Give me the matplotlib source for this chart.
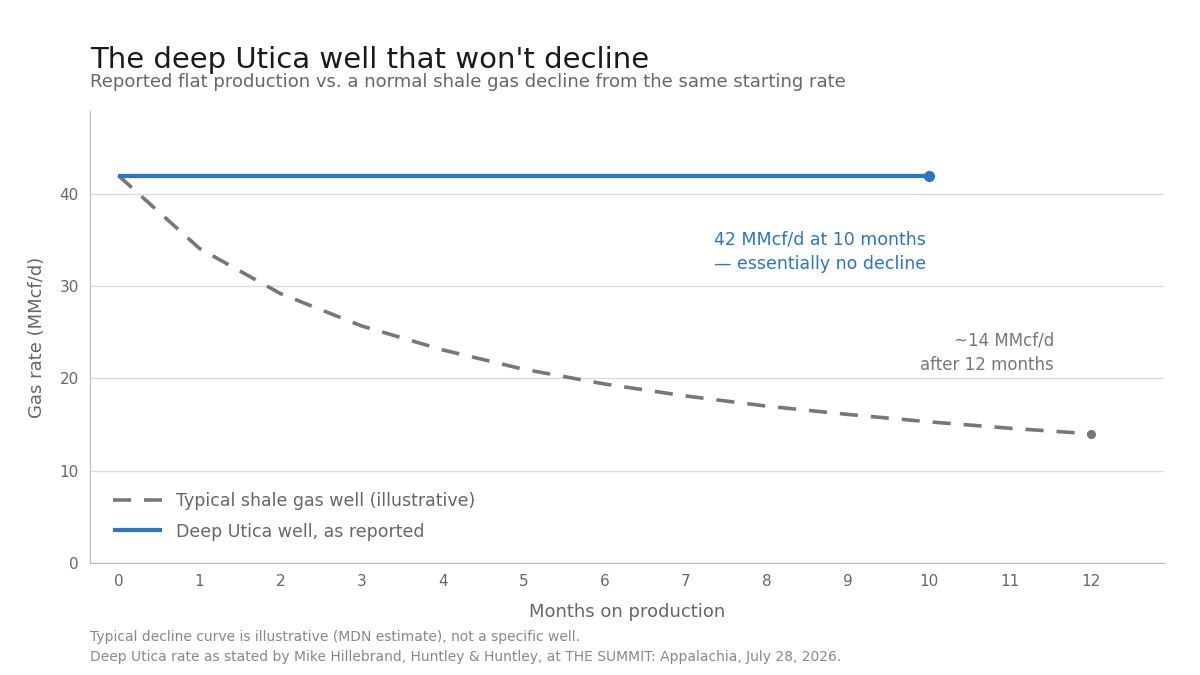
import matplotlib
matplotlib.use("Agg")
import matplotlib.pyplot as plt

months = list(range(13))
typical = [42, 34.1, 29.2, 25.7, 23.1, 21.0, 19.4, 18.1, 17.0, 16.1, 15.3, 14.6, 14.0]
utica_months = list(range(11))
utica = [42] * 11

BLUE = "#2b74c8"
GRAY = "#777777"
TXT = "#666666"

plt.rcParams['font.family'] = ['DejaVu Sans']
fig = plt.figure(figsize=(12, 6.75), dpi=100)
ax = fig.add_axes([0.075, 0.166, 0.895, 0.6696])

ax.plot(months, typical, color=GRAY, lw=2.6, ls=(0, (5.0, 3.6)),
        label="Typical shale gas well (illustrative)")
ax.plot(months[-1], typical[-1], 'o', color=GRAY, ms=5.5)
ax.plot(utica_months, utica, color=BLUE, lw=3.0, solid_capstyle='butt',
        label="Deep Utica well, as reported")
ax.plot(utica_months[-1], utica[-1], 'o', color=BLUE, ms=7)

ax.set_xlim(-0.35, 12.9)
ax.set_ylim(0, 49)
ax.set_xticks(months)
ax.set_yticks([0, 10, 20, 30, 40])
ax.grid(axis='y', color='#dddddd', lw=1)
ax.set_axisbelow(True)
for s in ['top', 'right']:
    ax.spines[s].set_visible(False)
for s in ['left', 'bottom']:
    ax.spines[s].set_color('#bbbbbb')
ax.tick_params(length=0, labelsize=11, labelcolor=TXT, pad=8)
ax.set_xlabel("Months on production", fontsize=13, color=TXT, labelpad=10)
ax.set_ylabel("Gas rate (MMcf/d)", fontsize=13, color=TXT, labelpad=10)

ax.text(9.96, 33.7, "42 MMcf/d at 10 months\n— essentially no decline", color=BLUE,
        fontsize=12.5, ha='right', va='center', linespacing=1.45)
ax.text(11.54, 22.8, "~14 MMcf/d\nafter 12 months", color=GRAY,
        fontsize=12, ha='right', va='center', linespacing=1.45)

leg = ax.legend(loc='lower left', frameon=False, fontsize=12.5, labelcolor=TXT,
                handlelength=2.8, bbox_to_anchor=(0.007, 0.015), labelspacing=0.7)

fig.text(0.075, 0.9115, "The deep Utica well that won't decline", fontsize=21,
         color='#1a1a1a', ha='left', va='center')
fig.text(0.075, 0.879, "Reported flat production vs. a normal shale gas decline from the same starting rate",
         fontsize=13, color=TXT, ha='left', va='center')
fig.text(0.075, 0.056, "Typical decline curve is illustrative (MDN estimate), not a specific well.",
         fontsize=10, color='#888888', ha='left', va='center')
fig.text(0.075, 0.027, "Deep Utica rate as stated by Mike Hillebrand, Huntley & Huntley, at THE SUMMIT: Appalachia, July 28, 2026.",
         fontsize=10, color='#888888', ha='left', va='center')

fig.savefig("out.png", dpi=100)
